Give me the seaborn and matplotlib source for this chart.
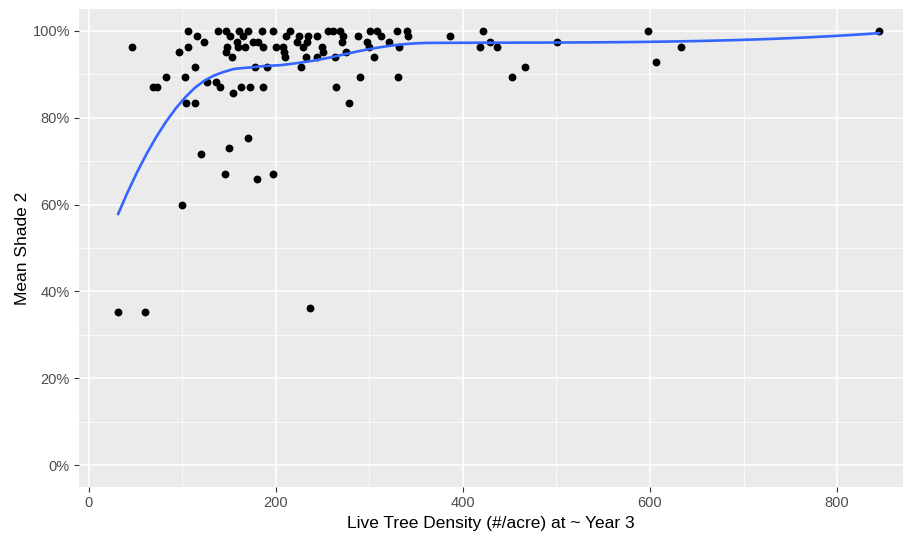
import numpy as np
import pandas as pd
import seaborn as sns
import matplotlib.pyplot as plt
from matplotlib.ticker import MultipleLocator, FuncFormatter

# live tree density (#/acre) at ~year 3, and mean shade 2 (%)
density = [31.3, 60.5, 46.3, 69.1, 72.7, 83.0, 96.2, 100.1, 103.0, 104.3,
           105.8, 105.8, 116.1, 123.3, 113.6, 113.6, 120.4, 126.1, 136.1, 140.4,
           138.6, 146.5, 151.1, 147.5, 146.5, 153.5, 150.0, 145.4, 154.6, 160.7,
           170.6, 165.3, 158.2, 159.9, 167.1, 176.0, 181.3, 186.7, 185.6, 197.4,
           177.8, 190.3, 162.8, 172.4, 186.7, 170.6, 180.2, 197.4, 215.3, 256.2,
           261.5, 268.7, 300.7, 307.7, 330.0, 340.0, 421.5, 598.0, 845.2, 210.7,
           224.8, 233.9, 244.4, 272.2, 288.2, 312.3, 341.7, 386.3, 222.4, 233.7,
           270.5, 297.0, 321.4, 429.0, 500.3, 199.9, 208.0, 228.6, 249.1, 300.0,
           332.1, 418.6, 436.2, 633.5, 209.1, 250.0, 275.3, 210.0, 232.7, 243.8,
           262.8, 305.3, 227.0, 289.5, 331.0, 452.2, 264.4, 278.6, 606.8, 466.7,
           236.6]
shade = [35.2, 35.2, 96.3, 87.1, 87.1, 89.3, 95.1, 59.9, 89.3, 83.3,
         100, 96.3, 98.8, 97.4, 91.7, 83.3, 71.7, 88.2, 88.2, 87.1,
         100, 100, 98.8, 96.3, 95.1, 94.0, 72.9, 67.1, 85.7, 100,
         100, 98.8, 97.4, 96.3, 96.3, 97.4, 97.4, 96.3, 100, 100,
         91.7, 91.7, 87.1, 87.1, 87.1, 75.3, 65.9, 67.1, 100, 100,
         100, 100, 100, 100, 100, 100, 100, 100, 100, 98.8,
         98.8, 98.8, 98.8, 98.8, 98.8, 98.8, 98.8, 98.8, 97.4, 97.4,
         97.4, 97.4, 97.4, 97.4, 97.4, 96.3, 96.3, 96.3, 96.3, 96.3,
         96.3, 96.3, 96.3, 96.3, 95.1, 95.1, 95.1, 94.0, 94.0, 94.0,
         94.0, 94.0, 91.7, 89.3, 89.3, 89.3, 87.1, 83.3, 92.8, 91.6,
         36.3]

df = pd.DataFrame({"density": density, "shade": shade})


# loess like R's default (span .75, degree 2, kd-tree + cubic interpolation)
def local_fit(x, y, x0, q):
    d = np.abs(x - x0)
    h = np.sort(d)[q - 1]
    w = np.clip(1 - (d / h) ** 3, 0, None) ** 3
    X = np.column_stack([np.ones_like(x), x - x0, (x - x0) ** 2])
    sw = np.sqrt(w)
    beta = np.linalg.lstsq(X * sw[:, None], y * sw, rcond=None)[0]
    return beta[0], beta[1]


def loess(x, y, grid, span=0.75, cell=0.2):
    x = np.asarray(x, float)
    y = np.asarray(y, float)
    n = len(x)
    q = int(np.floor(n * span))
    fc = int(np.floor(n * span * cell))
    xs = np.sort(x)
    splits = []

    def build(l, u):
        if u - l + 1 <= fc:
            return
        m = (l + u + 2) // 2 - 1
        off = 0
        while l <= m + off < u:
            if xs[m + off] == xs[m + off + 1]:
                off = -off
                if off >= 0:
                    off += 1
            else:
                m = m + off
                break
        splits.append((xs[m] + xs[m + 1]) / 2)
        build(l, m)
        build(m + 1, u)

    build(0, n - 1)
    mu = 0.005 * (xs[-1] - xs[0])
    verts = np.array(sorted([xs[0] - mu] + splits + [xs[-1] + mu]))
    vals = np.array([local_fit(x, y, v, q) for v in verts])
    out = []
    for g in grid:
        i = min(max(np.searchsorted(verts, g) - 1, 0), len(verts) - 2)
        a, b = verts[i], verts[i + 1]
        hh = b - a
        t = (g - a) / hh
        out.append((2 * t**3 - 3 * t**2 + 1) * vals[i, 0]
                   + (t**3 - 2 * t**2 + t) * hh * vals[i, 1]
                   + (-2 * t**3 + 3 * t**2) * vals[i + 1, 0]
                   + (t**3 - t**2) * hh * vals[i + 1, 1])
    return np.array(out)


xs = np.linspace(df.density.min(), df.density.max(), 80)
smooth = pd.DataFrame({"density": xs, "shade": loess(df.density, df.shade, xs)})

sns.set_theme(style="darkgrid", rc={
    "axes.facecolor": "#EBEBEB",
    "grid.color": "white",
    "axes.edgecolor": "#EBEBEB",
})
plt.rcParams["font.family"] = ["Liberation Sans", "DejaVu Sans"]

fig = plt.figure(figsize=(9.05, 5.35), dpi=100)
ax = fig.add_axes([79 / 905, 48 / 535, 824 / 905, 478 / 535])

sns.scatterplot(data=df, x="density", y="shade", ax=ax, color="black",
                s=32, linewidth=0, zorder=3)
sns.lineplot(data=smooth, x="density", y="shade", ax=ax, color="#3366FF",
             linewidth=1.9, zorder=4)

ax.set_xlim(-10.4, 870.5)
ax.set_ylim(-5, 105)
ax.xaxis.set_major_locator(MultipleLocator(200))
ax.xaxis.set_minor_locator(MultipleLocator(100))
ax.yaxis.set_major_locator(MultipleLocator(20))
ax.yaxis.set_minor_locator(MultipleLocator(10))
ax.yaxis.set_major_formatter(FuncFormatter(lambda v, p: f"{v:.0f}%"))
ax.grid(which="major", color="white", linewidth=1.1)
ax.grid(which="minor", color="white", linewidth=0.55)
for s in ax.spines.values():
    s.set_visible(False)
ax.tick_params(axis="both", which="major", length=3.5, width=0.8, color="#333333",
               labelcolor="#4D4D4D", labelsize=10.5, pad=3, bottom=True, left=True)
ax.tick_params(axis="both", which="minor", length=0)

ax.set_xlabel("Live Tree Density (#/acre) at ~ Year 3", fontsize=12.5, color="black", labelpad=4)
ax.set_ylabel("Mean Shade 2", fontsize=12.5, color="black", labelpad=2)

plt.savefig("out.png", dpi=100)
